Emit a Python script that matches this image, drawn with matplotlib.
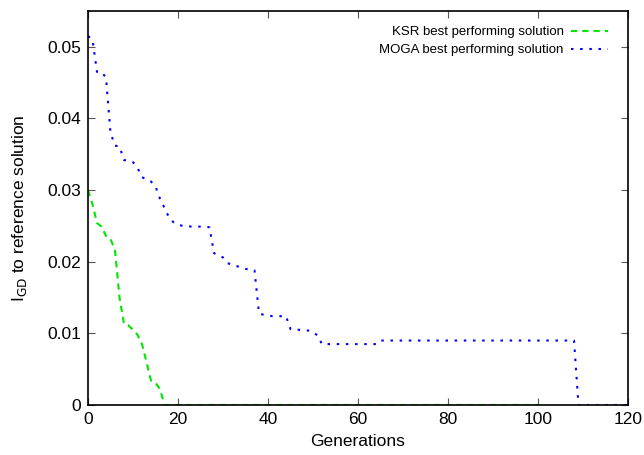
import matplotlib
matplotlib.use("Agg")
import matplotlib.pyplot as plt
import numpy as np

plt.rcParams['font.family'] = ['Liberation Sans', 'DejaVu Sans']

# KSR best performing solution, generations 0..100
ksr_gen = list(range(0, 101))
ksr_igd = [0.0300, 0.0280, 0.0254, 0.0249, 0.0236, 0.0232, 0.0216, 0.0150,
           0.0113, 0.0111, 0.0105, 0.0098, 0.0085, 0.0060, 0.0034, 0.0031,
           0.0022, 0.0] + [0.0] * 83

# MOGA best performing solution, generations 0..120
moga_gen = list(range(0, 121))
moga_igd = ([0.0515, 0.0510, 0.0465, 0.0465, 0.0457, 0.0380, 0.0362, 0.0361,
             0.0342, 0.0341, 0.0339, 0.0331, 0.0318, 0.0315, 0.0312, 0.0305,
             0.0288, 0.0275, 0.0262, 0.0255, 0.0252, 0.0250, 0.0250, 0.0249,
             0.0249, 0.0249, 0.0249, 0.0248, 0.0212, 0.0209, 0.0206, 0.0198,
             0.0196, 0.0194, 0.0192, 0.0190, 0.0189, 0.0188, 0.0128, 0.0126,
             0.0125, 0.0124, 0.0124, 0.0124, 0.0124, 0.0106, 0.0105, 0.0105,
             0.0104, 0.0104, 0.0102, 0.0097, 0.0085]
            + [0.0085] * 12 + [0.0090] * 44 + [0.0] * 12)

fig = plt.figure(figsize=(6.44, 4.55), dpi=100)
ax = fig.add_axes([88 / 644, 1 - 405 / 455, 540 / 644, 394 / 455])

ax.plot(ksr_gen, ksr_igd, color='#00e600', lw=1.5, linestyle=(0, (3, 2.4)),
        label='KSR best performing solution')
ax.plot(moga_gen, moga_igd, color='#0000ff', lw=1.5, linestyle=(0, (1.2, 3.2)),
        label='MOGA best performing solution')

ax.set_xlim(0, 120)
ax.set_ylim(0, 0.055)
ax.set_xticks(np.arange(0, 121, 20))
ax.set_yticks([0, 0.01, 0.02, 0.03, 0.04, 0.05])
ax.set_yticklabels(['0', '0.01', '0.02', '0.03', '0.04', '0.05'])
ax.tick_params(direction='in', length=5, width=0.8, color='#555555',
               labelsize=12.5, top=True, right=True, pad=5)
for s in ax.spines.values():
    s.set_linewidth(1.2)

ax.set_xlabel('Generations', fontsize=12.5, labelpad=5)
ax.set_ylabel(r'I$_{\mathrm{GD}}$ to reference solution', fontsize=12.5, labelpad=13)

leg = ax.legend(loc='upper right', frameon=False, markerfirst=False,
                fontsize=9.5, handlelength=2.8, handletextpad=0.55,
                labelspacing=0.45, borderaxespad=0, borderpad=0,
                bbox_to_anchor=(608 / 644, 1 - 26 / 455),
                bbox_transform=fig.transFigure)

fig.savefig('out.png', dpi=100)
